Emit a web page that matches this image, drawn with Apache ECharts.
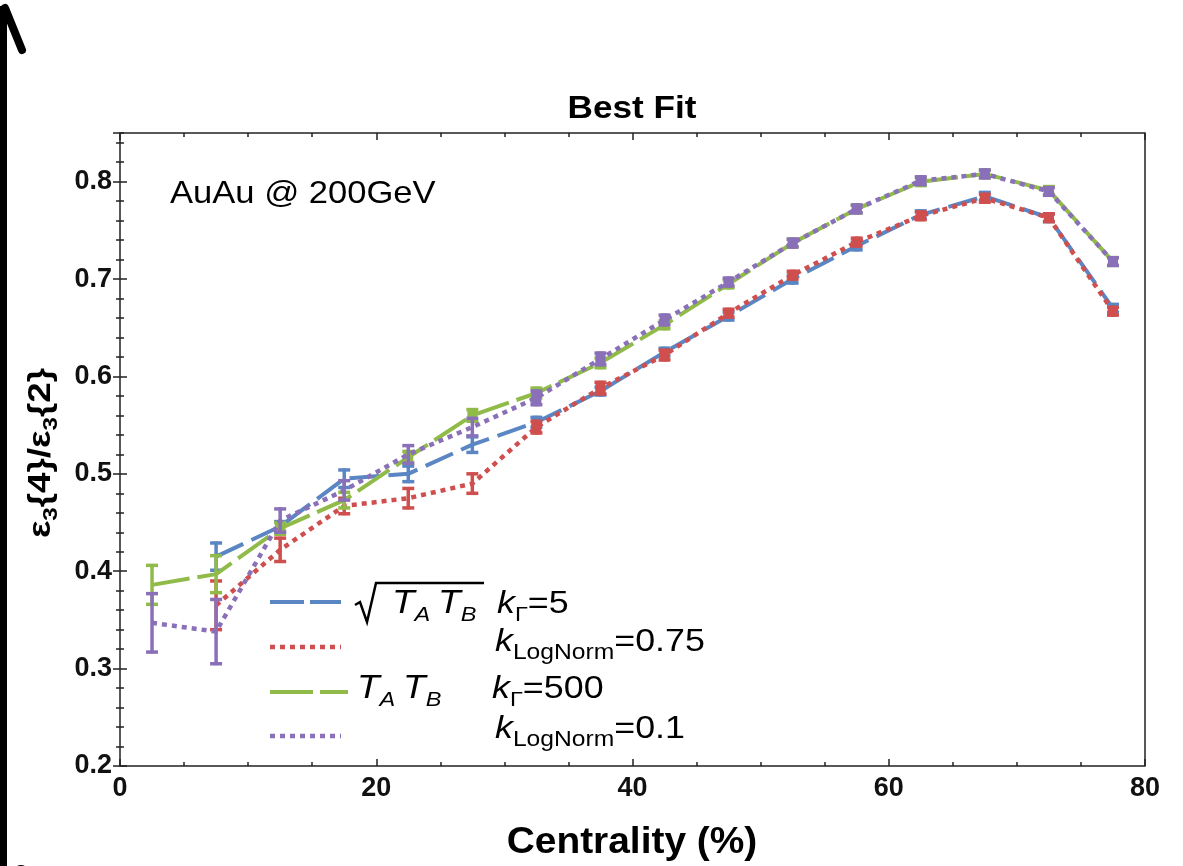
<!DOCTYPE html>
<html>
<head>
<meta charset="utf-8">
<script src="https://cdn.jsdelivr.net/npm/echarts@6/dist/echarts.min.js"></script>
<style>html,body{margin:0;padding:0;background:#fff}#c{width:1183px;height:866px}</style>
</head>
<body>
<div id="c"></div>
<script>
// ---- data ----
const centrality = [2.5, 7.5, 12.5, 17.5, 22.5, 27.5, 32.5, 37.5, 42.5, 47.5, 52.5, 57.5, 62.5, 67.5, 72.5, 77.5];
const sqrtGamma5      = [null, 0.415, 0.446, 0.495, 0.500, 0.530, 0.553, 0.585, 0.625, 0.662, 0.700, 0.734, 0.766, 0.785, 0.763, 0.670];
const sqrtGamma5Err   = [null, 0.014, 0.005, 0.009, 0.008, 0.008, 0.005, 0.004, 0.004, 0.004, 0.004, 0.004, 0.004, 0.004, 0.004, 0.004];
const sqrtLogN075     = [null, 0.365, 0.422, 0.467, 0.475, 0.490, 0.548, 0.588, 0.622, 0.665, 0.704, 0.738, 0.765, 0.783, 0.763, 0.667];
const sqrtLogN075Err  = [null, 0.025, 0.012, 0.008, 0.010, 0.010, 0.006, 0.006, 0.005, 0.004, 0.004, 0.004, 0.004, 0.004, 0.004, 0.004];
const prodGamma500    = [0.386, 0.397, 0.444, 0.473, 0.517, 0.560, 0.583, 0.614, 0.653, 0.695, 0.737, 0.772, 0.800, 0.808, 0.791, 0.718];
const prodGamma500Err = [0.020, 0.019, 0.006, 0.008, 0.006, 0.006, 0.005, 0.005, 0.004, 0.004, 0.004, 0.004, 0.004, 0.004, 0.004, 0.004];
const prodLogN01      = [0.347, 0.338, 0.452, 0.483, 0.520, 0.548, 0.578, 0.618, 0.658, 0.697, 0.737, 0.772, 0.801, 0.808, 0.790, 0.718];
const prodLogN01Err   = [0.030, 0.033, 0.012, 0.010, 0.009, 0.009, 0.007, 0.006, 0.005, 0.004, 0.004, 0.004, 0.004, 0.004, 0.004, 0.004];
const xTicks = [0, 20, 40, 60, 80];
const yTicks = [0.2, 0.3, 0.4, 0.5, 0.6, 0.7, 0.8];

// ---- style ----
const FAM = '"Liberation Sans", Arial, sans-serif';
const C_BLUE = '#5a86c4', C_RED = '#cf4f4f', C_GREEN = '#90bb48', C_PURPLE = '#8a70b8';
const GRID = {left: 120, right: 38, top: 133, bottom: 100};

function pairs(vals) { return centrality.map((x, i) => vals[i] == null ? null : [x, vals[i]]).filter(d => d); }
function triples(vals, errs) { return centrality.map((x, i) => vals[i] == null ? null : [x, vals[i], errs[i]]).filter(d => d); }

function lineSeries(name, vals, color, dash, width, z) {
  return {name, type: 'line', data: pairs(vals), symbol: 'none', z,
    lineStyle: {color, width, type: dash, cap: 'butt'}, silent: true};
}
function errSeries(vals, errs, color, z) {
  return {type: 'custom', data: triples(vals, errs), z, silent: true,
    encode: {x: 0, y: 1},
    renderItem(params, api) {
      const x = api.value(0), y = api.value(1), e = api.value(2);
      const t = api.coord([x, y + e]), b = api.coord([x, y - e]);
      const hw = 6, st = {stroke: color, lineWidth: 3.5};
      const kids = [
        {type: 'line', shape: {x1: t[0], y1: t[1] - 1.5, x2: b[0], y2: b[1] + 1.5}, style: st},
        {type: 'line', shape: {x1: t[0] - hw, y1: t[1], x2: t[0] + hw, y2: t[1]}, style: st},
        {type: 'line', shape: {x1: b[0] - hw, y1: b[1], x2: b[0] + hw, y2: b[1]}, style: st}
      ];
      if (b[1] - t[1] < 14) {
        kids.push({type: 'rect', shape: {x: t[0] - hw + 1, y: t[1] - 1.5, width: 2 * hw - 2, height: b[1] - t[1] + 3, r: 1.5}, style: {fill: color}});
      }
      return {type: 'group', children: kids};
    }};
}

// text sequence helper (baseline aligned pieces)
const mctx = document.createElement('canvas').getContext('2d');
function seq(x, y, parts, scaleX, rotation) {
  let cx = 0; const children = [];
  for (const p of parts) {
    if (p.gap) { cx += p.gap; continue; }
    const font = `${p.it ? 'italic' : 'normal'} ${p.b ? 'bold' : 'normal'} ${p.s}px ${FAM}`;
    mctx.font = font;
    const w = mctx.measureText(p.t).width;
    children.push({type: 'text', x: cx, y: (p.dy || 0) - 0.35 * p.s,
      style: {text: p.t, font, fill: '#000', textAlign: 'left', textVerticalAlign: 'middle', verticalAlign: 'middle'}});
    cx += w;
  }
  return {type: 'group', x, y, scaleX: scaleX || 1, rotation: rotation || 0, children, width: cx};
}

const legendTextMain = 32, legendSub = 21;
function kGamma(x, y, val) {
  return seq(x, y, [{t: 'k', s: legendTextMain, it: 1}, {t: 'Γ', s: legendSub, dy: 8}, {t: '=' + val, s: legendTextMain}], 1.12);
}
function kLogNorm(x, y, val) {
  return seq(x, y, [{t: 'k', s: legendTextMain, it: 1}, {t: 'LogNorm', s: legendSub + 1, dy: 8}, {t: '=' + val, s: legendTextMain}], 1.12);
}
function TATB(x, y) {
  return seq(x, y, [{t: 'T', s: legendTextMain + 1, it: 1}, {t: 'A', s: legendSub, it: 1, dy: 8}, {gap: 7},
                   {t: 'T', s: legendTextMain + 1, it: 1}, {t: 'B', s: legendSub, it: 1, dy: 8}], 1.12);
}

// y-axis title (rotated)
const yTitle = seq(0, 0, [
  {t: 'ε', s: 32, b: 1}, {t: '3', s: 21, b: 1, dy: 7}, {t: '{4}/ε', s: 32, b: 1}, {t: '3', s: 21, b: 1, dy: 7}, {t: '{2}', s: 32, b: 1}
], 1.15, Math.PI / 2);
yTitle.x = 52; yTitle.y = 453 + yTitle.width * 1.15 / 2;

// title
const title = seq(0, 120, [{t: 'Best Fit', s: 32, b: 1}], 1.1);
title.x = 632 - title.width * 1.1 / 2;
// x-axis title
const xTitle = seq(0, 856, [{t: 'Centrality (%)', s: 36, b: 1}], 1.08);
xTitle.x = 632 - xTitle.width * 1.08 / 2;

const graphics = [
  // left thick arrow (figure edge)
  {type: 'polyline', shape: {points: [[3.5, 880], [3.5, 6]]}, style: {stroke: '#000', lineWidth: 7, fill: null}},
  {type: 'polyline', shape: {points: [[5, 8], [22, 50]]}, style: {stroke: '#000', lineWidth: 8, lineCap: 'round', fill: null}},
  {type: 'circle', shape: {cx: 21, cy: 873, r: 8}, style: {fill: '#000'}},
  title, xTitle, yTitle,
  seq(170, 205, [{t: 'AuAu @ 200GeV', s: 32}], 1.08),
  // legend samples
  {type: 'polyline', shape: {points: [[270, 602], [341, 602]]}, style: {stroke: C_BLUE, lineWidth: 4, lineDash: [34, 6], fill: null}},
  {type: 'polyline', shape: {points: [[270, 647], [341, 647]]}, style: {stroke: C_RED, lineWidth: 4.5, lineDash: [5, 5], fill: null}},
  {type: 'polyline', shape: {points: [[270, 692], [348, 692]]}, style: {stroke: C_GREEN, lineWidth: 4, lineDash: [43, 7], fill: null}},
  {type: 'polyline', shape: {points: [[270, 736], [341, 736]]}, style: {stroke: C_PURPLE, lineWidth: 4.5, lineDash: [5, 5], fill: null}},
  // radical sign
  {type: 'polyline', shape: {points: [[355, 605], [360, 602], [367, 622], [376, 583], [484, 583]]}, style: {stroke: '#000', lineWidth: 2.5, fill: null, lineJoin: 'miter'}},
  TATB(392, 615), kGamma(497, 615, '5'),
  kLogNorm(495, 653, '0.75'),
  TATB(357, 700), kGamma(492, 700, '500'),
  kLogNorm(495, 740, '0.1')
];

const tickStyle = {color: '#222', width: 1.5};
const majorX = (pos, labels) => ({type: 'value', gridIndex: 0, min: 0, max: 80, interval: 20, position: pos,
  axisLine: {show: false}, splitLine: {show: false},
  axisTick: {show: true, inside: true, length: 7, lineStyle: tickStyle},
  axisLabel: labels ? {show: true, fontSize: 27, fontWeight: 'bold', fontFamily: FAM, color: '#111', margin: 9,
    formatter: v => xTicks.includes(v) ? String(v) : ''} : {show: false}});
const minorX = (pos) => ({type: 'value', gridIndex: 1, min: 0, max: 80, interval: 5, position: pos,
  axisLine: {show: false}, splitLine: {show: false}, axisLabel: {show: false},
  axisTick: {show: true, inside: true, length: 4, lineStyle: tickStyle}});
const majorY = (pos, labels) => ({type: 'value', gridIndex: 0, min: 0.2, max: 0.85, interval: 0.1, position: pos,
  axisLine: {show: false}, splitLine: {show: false},
  axisTick: {show: true, inside: true, length: 7, lineStyle: tickStyle},
  axisLabel: labels ? {show: true, showMaxLabel: false, fontSize: 27, fontWeight: 'bold', fontFamily: FAM, color: '#111', margin: 8,
    formatter: v => yTicks.some(t => Math.abs(t - v) < 1e-6) ? v.toFixed(1) : ''} : {show: false}});
const minorY = (pos) => ({type: 'value', gridIndex: 1, min: 0.2, max: 0.85, interval: 0.02, position: pos,
  axisLine: {show: false}, splitLine: {show: false}, axisLabel: {show: false},
  axisTick: {show: true, inside: true, length: 4, lineStyle: tickStyle}});

const option = {
  animation: false,
  backgroundColor: '#fff',
  grid: [
    Object.assign({show: true, borderColor: '#222', borderWidth: 1.5, backgroundColor: 'transparent'}, GRID),
    Object.assign({show: false}, GRID)
  ],
  xAxis: [majorX('bottom', true), majorX('top', false), minorX('bottom'), minorX('top')],
  yAxis: [majorY('left', true), majorY('right', false), minorY('left'), minorY('right')],
  series: [
    lineSeries('sqrt TATB kGamma=5', sqrtGamma5, C_BLUE, [30, 9], 4, 2),
    errSeries(sqrtGamma5, sqrtGamma5Err, C_BLUE, 2),
    lineSeries('sqrt TATB kLogNorm=0.75', sqrtLogN075, C_RED, [5, 5], 4.5, 3),
    errSeries(sqrtLogN075, sqrtLogN075Err, C_RED, 3),
    lineSeries('TATB kGamma=500', prodGamma500, C_GREEN, [38, 8], 4, 4),
    errSeries(prodGamma500, prodGamma500Err, C_GREEN, 4),
    lineSeries('TATB kLogNorm=0.1', prodLogN01, C_PURPLE, [5, 5], 4.5, 5),
    errSeries(prodLogN01, prodLogN01Err, C_PURPLE, 5)
  ],
  graphic: graphics
};
const chart = echarts.init(document.getElementById('c'), null, {renderer: 'canvas'});
chart.setOption(option);
</script>
</body>
</html>
